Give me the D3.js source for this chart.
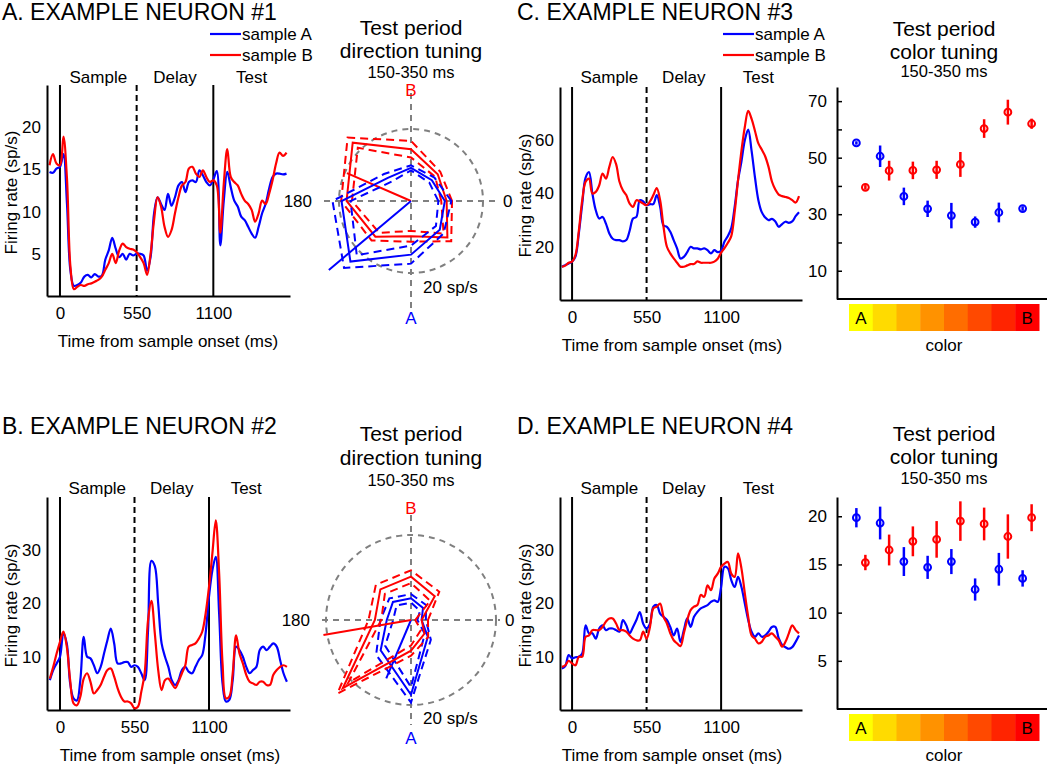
<!DOCTYPE html>
<html>
<head>
<meta charset="utf-8">
<script src="https://cdn.jsdelivr.net/npm/d3@7"></script>
<style>
  body { margin: 0; background: #fff; }
  svg { display: block; }
</style>
</head>
<body>
<svg id="fig" width="1050" height="764"></svg>
<script>
// Example neurons: PSTHs, direction tuning (polar) and colour tuning

// time bins, ms from sample onset
const timesA = [-75,-50,-25,0,25,50,75,100,125,150,175,200,225,250,275,300,325,350,375,400,425,450,475,500,525,550,575,600,625,650,675,700,725,750,775,800,825,850,875,900,925,950,975,1000,1025,1050,1075,1100,1125,1150,1175,1200,1225,1250,1275,1300,1325,1350,1375,1400,1425,1450,1475,1500,1525,1550,1575,1600,1625];
const timesBCD = [-75,-50,-25,0,25,50,75,100,125,150,175,200,225,250,275,300,325,350,375,400,425,450,475,500,525,550,575,600,625,650,675,700,725,750,775,800,825,850,875,900,925,950,975,1000,1025,1050,1075,1100,1125,1150,1175,1200,1225,1250,1275,1300,1325,1350,1375,1400,1425,1450,1475,1500,1525,1550,1575,1600,1625,1650,1675];

// firing rates (sp/s)
const n1SampleA = [14.7,14.6,15.1,15.3,16.8,11,3,1.2,1.3,1.6, 2.3,2.5,2.2,2.6,2.3,2.4,4.3,5.4,6.9,5.6, 4.6,5,4.3,5,4.8,5,5,4.8,3,4.6, 9.8,11.7,10.9,10.2,12.1,10.7,11.7,13.1,13.5,12.3, 13.5,13.7,13.5,14.9,14.3,13.5,13.1,13.8,14.8,6, 11.3,14.7,12.9,11.3,10.6,9.4,9,8.2,7.4,6.9, 8.2,9.8,10.9,12.7,14.1,14.5,14.5,14.4,14.5];
const n1SampleB = [15.5,16.8,15.7,15.5,18.9,14,3.5,0.8,1.1,1.3, 1.2,1.4,1.5,1.7,1.9,2.3,3.1,3.9,5,3.9, 5.4,6.2,5.8,5.6,5.5,5.2,4.6,3.9,2.5,5, 9,11.7,10.6,8.2,7,7.8,9.8,11.7,13.1,13.5, 15.1,15.3,14.5,14.1,14.9,14.1,13.5,13.7,13.1,7.5, 13.3,17.4,14.1,13.5,13.1,12.1,11.3,10.9,10.2,8.8, 9.8,11.3,10.9,12.1,13.7,15.7,17,16.6,17];
const n2SampleA = [5.6,7.5,8.75,10,14.4,12.5,5,2.2,1.8,5.6, 13.75,10,9.7,8.4,6.9,8.1,10.6,13.1,15.3,12.5, 8.75,8.75,9,9,8.1,8.4,8.1,6.9,5.6,15, 28,27,20,12.5,10,8.1,5.6,4.7,5.6,7.5, 8.1,7.2,6.9,8.1,9.4,10.3,14.4,21.25,26.25,28.75, 18,5,1.6,1.9,5.6,11.9,11.25,10,8.1,6.9, 7.5,8.1,11.25,11.9,11.25,11.9,12.5,11.9,9.4,6.9,5.3];
const n2SampleB = [5.9,8.1,10.6,12.8,14.7,11.9,5.6,1.25,0.9,2.5, 5.9,6.9,5.3,3.1,3.75,4.7,6.25,7.5,7.8,6.25, 4.1,2.5,1.6,1.6,1.25,0.3,0.6,3.4,6.9,16.9, 20.5,14.4,7.5,3.75,5.6,5.9,5,4.1,5.3,6.9, 8.4,11.9,12.2,12.5,13.4,14.7,18.1,23.1,29.4,35.6, 25.6,8.75,2.2,2.5,6.9,14,10.6,8.75,6.6,5.3, 5,4.7,5.3,5.3,4.7,4.7,6.6,7.5,8.1,8.4,8.1];
const n3SampleA = [12.5,13.1,13.7,14.4,16.3,25,36,46,48,40, 33.7,30.6,31.2,28.7,25,23,22.5,22.5,22,22.5, 26,30.6,31.2,37.5,37,35.6,36,36,39.4,35, 28,27.5,25.6,22.5,19.4,15.6,16.2,18,20,19.4, 19.4,19,19.4,18.7,17.5,18.7,18,18.5,22,24, 27,35,45,52,60,64,56,46,37.5,33, 31,30,30.5,29.5,27.5,28.5,29.4,29,29.5,31.5,33];
const n3SampleB = [12.5,12.9,14,14.4,16.9,26,37.5,44.4,45.6,40, 40.6,43,47.5,45.6,50,53.7,51,44.4,41.2,39.4, 36.2,35,37.5,37,36.2,35.6,37,39.4,42,37.5, 27.5,20,17.5,15.6,14,12.5,12.5,13,13.5,13.5, 14.5,14,14,14,14,14.4,15.5,17.8,19.5,21.5, 24,33,45,56,65,71,68,63.5,58.8,56.5, 54,50,44.5,41.5,39.6,39,38.7,38.3,37.5,36.6,39];
const n4SampleA = [7.8,8.25,10.3,9.7,9.9,10,10.6,15.9,14.4,14.4, 13.4,15.3,15.9,15,15.3,15.3,15,14.7,16.9,15.9, 14.4,15.6,16.9,18.4,16.2,15.3,16.2,19.4,19.7,18.1, 17.5,16.9,15.6,14,15.3,12.8,15,17.2,15.6,17.5, 18.4,19.1,19.4,19.7,20.3,20.6,20.3,23.1,26.9,26.6, 24.4,23.1,25,23.1,20,16.9,14.7,13.75,14.4,13.75, 14,14.7,15.6,15.6,13.5,12.2,11.8,11.5,11.8,12.8,14];
const n4SampleB = [8.1,8.4,9.25,8.75,8.4,10,10,13.75,14,15, 15,15,15.6,16.6,17.2,17.2,16.25,15,15,14.7, 14,13.4,13.1,13.1,14.7,13.4,15.6,19.1,19.4,20, 17.5,16.25,14.4,13.1,12.5,12,14.4,16.9,18.75,19.4, 19.7,21.6,21.25,23.4,22.5,24.7,25.6,26.9,27.5,27.8, 25.6,25,29.4,26.6,21.9,17.5,14,13.4,12.5,12.8, 13.75,14,14.4,13.75,13.1,11.9,12.8,14.4,15.9,15,14.4];

const eventTimes = [0, 550, 1100];
const periodNames = ['Sample', 'Delay', 'Test'];
const periodMid = [275, 825, 1375];

// direction tuning, test period 150-350 ms (sp/s)
const directions = [0, 45, 90, 135, 180, 225, 270, 315];
const dir1SampleA = [9.4, 8.2, 9.2, 9.1, 19.3, 23.8, 14.9, 11.3];
const dir1SampleAErr = [1.8, 1, 0.7, 1.5, 2.5, 2.5, 2.5, 1.5];
const dir1SampleB = [9.9, 10.5, 14.4, 22.9, 17.9, 14, 9.8, 14.3];
const dir1SampleBErr = [1.5, 1, 2.3, 2, 1.5, 1.5, 1.5, 1.5];
const dir1VectorA = [220, 29.8];   // [angle deg, length]
const dir1VectorB = [156.5, 19.4];
const dir2SampleA = [2.5, 4, 5.1, 6, 5.7, 10.1, 17.6, 5.6];
const dir2SampleAErr = [1, 1, 1, 1.2, 1.5, 1.5, 1.8, 1];
const dir2SampleB = [2.5, 7.9, 10.2, 10.2, 8.5, 22.7, 7.2, 4.5];
const dir2SampleBErr = [1.5, 1.5, 1.5, 1.5, 1.5, 1.8, 1.2, 1.2];
const dir2VectorA = [247, 14.9];
const dir2VectorB = [189.7, 20.9];

// colour tuning, test period 150-350 ms (sp/s)
const colorSteps = [1, 2, 3, 4, 5, 6, 7, 8];
const colorSwatches = ['#ffff00', '#ffdb00', '#ffb600', '#ff9200', '#ff6d00', '#ff4900', '#ff2400', '#ff0000'];
const colorEnds = ['A', '', '', '', '', '', '', 'B'];
const col3SampleA = [55.2, 50.5, 36.3, 31.9, 29.5, 27.2, 30.6, 32];
const col3SampleAErr = [0.6, 3.8, 3.1, 2.9, 4.5, 2, 3.5, 0.8];
const col3SampleB = [39.5, 45.4, 45.5, 45.7, 47.6, 60.3, 66.1, 62];
const col3SampleBErr = [0.8, 3.5, 3.1, 3.2, 4.4, 3.3, 4.4, 1.8];
const col4SampleA = [19.85, 19.3, 15.3, 14.7, 15.3, 12.4, 14.5, 13.55];
const col4SampleAErr = [1, 1.7, 1.5, 1.2, 1.3, 1.15, 1.7, 0.85];
const col4SampleB = [15.2, 16.5, 17.4, 17.6, 19.5, 19.2, 17.9, 19.85];
const col4SampleBErr = [0.8, 1.6, 1.55, 1.9, 2.05, 1.7, 2.3, 1.4];

const FONT = '"Liberation Sans", Arial, Helvetica, sans-serif';
const BLUE = '#0000ff';
const RED = '#ff0000';
const GREY = '#808080';

const svg = d3.select('#fig').style('font-family', FONT);
const defs = svg.append('defs');

function label(g, x, y, str, size, opts = {}) {
  return g.append('text')
    .attr('x', x)
    .attr('y', y)
    .attr('font-size', size)
    .attr('text-anchor', opts.anchor || 'middle')
    .attr('dominant-baseline', 'central')
    .attr('fill', opts.fill || '#000')
    .text(str);
}

function styleAxis(sel) {
  sel.attr('font-family', FONT).attr('font-size', 17);
  sel.select('.domain').attr('stroke', '#000').attr('stroke-width', 2);
  sel.selectAll('.tick line').attr('stroke', '#000').attr('stroke-width', 1.5);
  sel.selectAll('.tick text').attr('fill', '#000');
}

// ---- firing-rate panels ----
function drawPsth(p) {
  const g = svg.append('g');
  const x = d3.scaleLinear().domain(p.xDomain).range([p.left, p.right]);
  const y = d3.scaleLinear().domain(p.yDomain).range([p.bottom, p.top]);

  defs.append('clipPath').attr('id', 'clip-' + p.id)
    .append('rect')
    .attr('x', p.left).attr('y', p.top)
    .attr('width', p.right - p.left).attr('height', p.bottom - p.top);

  label(g, p.titleX, p.titleY, p.title, 23, { anchor: 'start' })
    .attr('dominant-baseline', 'auto');

  periodNames.forEach((name, i) => label(g, x(periodMid[i]), p.periodY, name, 17));

  g.selectAll('.event')
    .data(eventTimes)
    .join('line')
    .attr('x1', d => x(d)).attr('x2', d => x(d))
    .attr('y1', p.top).attr('y2', p.bottom)
    .attr('stroke', '#000')
    .attr('stroke-width', 2)
    .attr('stroke-dasharray', (d, i) => i === 1 ? '6,4' : null);

  const line = d3.line()
    .x((d, i) => x(p.times[i]))
    .y(d => y(d))
    .curve(d3.curveCatmullRom.alpha(0.5));

  const plot = g.append('g').attr('clip-path', `url(#clip-${p.id})`);
  [[p.sampleA, BLUE], [p.sampleB, RED]].forEach(([vals, c]) => {
    plot.append('path')
      .attr('d', line(vals))
      .attr('fill', 'none')
      .attr('stroke', c)
      .attr('stroke-width', 2.2)
      .attr('stroke-linejoin', 'round');
  });

  g.append('g')
    .attr('transform', `translate(${p.left},0)`)
    .call(d3.axisLeft(y).tickValues(p.yTicks).tickSize(0).tickSizeOuter(0).tickPadding(6))
    .call(styleAxis);

  g.append('g')
    .attr('transform', `translate(0,${p.bottom})`)
    .call(d3.axisBottom(x).tickValues(eventTimes).tickFormat(d3.format('d'))
      .tickSize(0).tickSizeOuter(0).tickPadding(11))
    .call(styleAxis);

  label(g, p.xLabelX, p.bottom + 45, 'Time from sample onset (ms)', 17);
  label(g, 0, 0, 'Firing rate (sp/s)', 17)
    .attr('transform', `translate(${p.yLabelX},${(p.top + p.bottom) / 2 + 2}) rotate(-90)`);

  if (p.legend) {
    [['sample A', BLUE], ['sample B', RED]].forEach(([name, c], i) => {
      const ly = p.legend.y + i * 21;
      g.append('line')
        .attr('x1', p.legend.x).attr('x2', p.legend.x + 31)
        .attr('y1', ly).attr('y2', ly)
        .attr('stroke', c).attr('stroke-width', 2.2);
      label(g, p.legend.x + 32, ly, name, 17, { anchor: 'start' });
    });
  }
}

// ---- polar direction tuning ----
function drawPolar(p) {
  const g = svg.append('g');
  [['Test period', 21, 0], ['direction tuning', 21, 1], ['150-350 ms', 16.5, 2]].forEach(([t, s, i]) =>
    label(g, p.cx, p.titleY[i], t, s));

  const pg = g.append('g').attr('transform', `translate(${p.cx},${p.cy})`);
  const r = d3.scaleLinear().domain([0, 20]).range([0, p.ringR]);

  pg.append('circle')
    .attr('r', r(20))
    .attr('fill', 'none').attr('stroke', GREY)
    .attr('stroke-width', 2).attr('stroke-dasharray', '6,5');
  pg.append('line')
    .attr('x1', -p.hLen).attr('x2', p.hLen)
    .attr('stroke', GREY).attr('stroke-width', 2).attr('stroke-dasharray', '6,5');
  pg.append('line')
    .attr('y1', -p.vLen).attr('y2', p.vLen)
    .attr('stroke', GREY).attr('stroke-width', 2).attr('stroke-dasharray', '6,5');

  const radial = d3.lineRadial()
    .angle((d, i) => (90 - directions[i]) * Math.PI / 180)
    .radius(d => r(Math.max(d, 0)))
    .curve(d3.curveLinearClosed);

  p.series.forEach(s => {
    [-1, 1].forEach(sign => {
      pg.append('path')
        .attr('d', radial(s.mean.map((m, i) => m + sign * s.err[i])))
        .attr('fill', 'none').attr('stroke', s.color)
        .attr('stroke-width', 2).attr('stroke-dasharray', '8,5');
    });
    pg.append('path')
      .attr('d', radial(s.mean))
      .attr('fill', 'none').attr('stroke', s.color).attr('stroke-width', 2);
    const [ang, len] = s.vector;
    const a = ang * Math.PI / 180;
    pg.append('line')
      .attr('x1', 0).attr('y1', 0)
      .attr('x2', r(len) * Math.cos(a)).attr('y2', -r(len) * Math.sin(a))
      .attr('stroke', s.color).attr('stroke-width', 2);
  });

  label(pg, 0, -p.bLabel, 'B', 17, { fill: RED });
  label(pg, 0, p.aLabel, 'A', 17, { fill: BLUE });
  label(pg, -p.hLen - 12, 0, '180', 17, { anchor: 'end' });
  label(pg, p.hLen + 5, 0, '0', 17, { anchor: 'start' });
  label(pg, 12, p.scaleLabel, '20 sp/s', 17, { anchor: 'start' });
}

// ---- colour tuning ----
function drawColorTuning(p) {
  const g = svg.append('g');
  [['Test period', 21, 0], ['color tuning', 21, 1], ['150-350 ms', 16.5, 2]].forEach(([t, s, i]) =>
    label(g, p.titleX, p.titleY[i], t, s));

  const x = d3.scaleBand().domain(colorSteps).range([849, 1039]);
  const y = d3.scaleLinear().domain(p.yDomain).range([p.bottom, p.top]);
  const offset = 4.5;

  g.append('g')
    .attr('transform', `translate(${p.left},0)`)
    .call(d3.axisLeft(y).tickValues(p.yTicks).tickSize(-5).tickSizeOuter(0).tickPadding(10)
      .tickFormat(d => p.yLabels.includes(d) ? d : ''))
    .call(styleAxis);
  g.append('line')
    .attr('x1', p.left).attr('x2', p.right)
    .attr('y1', p.bottom).attr('y2', p.bottom)
    .attr('stroke', '#000').attr('stroke-width', 2);

  p.series.forEach(s => {
    const cx = d => x(d) + x.bandwidth() / 2 + s.shift * offset;
    g.selectAll(null)
      .data(colorSteps)
      .join('line')
      .attr('x1', cx).attr('x2', cx)
      .attr('y1', (d, i) => y(s.mean[i] - s.err[i]))
      .attr('y2', (d, i) => y(s.mean[i] + s.err[i]))
      .attr('stroke', s.color).attr('stroke-width', 2.5);
    g.selectAll(null)
      .data(colorSteps)
      .join('circle')
      .attr('cx', cx)
      .attr('cy', (d, i) => y(s.mean[i]))
      .attr('r', 3.4)
      .attr('fill', 'none').attr('stroke', s.color).attr('stroke-width', 2);
  });

  const barTop = p.bottom + 5;
  g.selectAll(null)
    .data(colorSteps)
    .join('rect')
    .attr('x', d => x(d)).attr('y', barTop)
    .attr('width', x.bandwidth() + 0.5).attr('height', 27)
    .attr('fill', (d, i) => colorSwatches[i]);
  colorSteps.forEach((d, i) => {
    if (colorEnds[i]) label(g, x(d) + x.bandwidth() / 2, barTop + 14, colorEnds[i], 17);
  });
  label(g, p.titleX, p.bottom + 46, 'color', 17);
}

// panel A
drawPsth({
  id: 'a', title: 'A. EXAMPLE NEURON #1', titleX: 2, titleY: 20,
  left: 47, right: 290, top: 85, bottom: 296,
  xDomain: [-93, 1650], yDomain: [0, 25], yTicks: [5, 10, 15, 20],
  times: timesA, sampleA: n1SampleA, sampleB: n1SampleB,
  periodY: 77, xLabelX: 168, yLabelX: 11, legend: { x: 210, y: 34 }
});
// panel B
drawPsth({
  id: 'b', title: 'B. EXAMPLE NEURON #2', titleX: 2, titleY: 434,
  left: 47, right: 290, top: 497, bottom: 710,
  xDomain: [-96, 1698], yDomain: [0, 40], yTicks: [10, 20, 30],
  times: timesBCD, sampleA: n2SampleA, sampleB: n2SampleB,
  periodY: 488, xLabelX: 170, yLabelX: 11
});
// panel C
drawPsth({
  id: 'c', title: 'C. EXAMPLE NEURON #3', titleX: 517, titleY: 20,
  left: 560, right: 802, top: 87, bottom: 300,
  xDomain: [-89, 1697], yDomain: [0, 80], yTicks: [20, 40, 60],
  times: timesBCD, sampleA: n3SampleA, sampleB: n3SampleB,
  periodY: 77, xLabelX: 672, yLabelX: 525, legend: { x: 723, y: 34 }
});
// panel D
drawPsth({
  id: 'd', title: 'D. EXAMPLE NEURON #4', titleX: 517, titleY: 434,
  left: 560, right: 802, top: 497, bottom: 710,
  xDomain: [-89, 1697], yDomain: [0, 40], yTicks: [10, 20, 30],
  times: timesBCD, sampleA: n4SampleA, sampleB: n4SampleB,
  periodY: 488, xLabelX: 672, yLabelX: 525
});

drawPolar({
  cx: 411, cy: 201, ringR: 72, hLen: 87, vLen: 108,
  titleY: [27, 50, 72], bLabel: 111, aLabel: 117, scaleLabel: 86,
  series: [
    { mean: dir1SampleB, err: dir1SampleBErr, vector: dir1VectorB, color: RED },
    { mean: dir1SampleA, err: dir1SampleAErr, vector: dir1VectorA, color: BLUE }
  ]
});
drawPolar({
  cx: 411, cy: 620, ringR: 85, hLen: 89, vLen: 105,
  titleY: [433, 457, 480], bLabel: 112, aLabel: 118, scaleLabel: 98,
  series: [
    { mean: dir2SampleA, err: dir2SampleAErr, vector: dir2VectorA, color: BLUE },
    { mean: dir2SampleB, err: dir2SampleBErr, vector: dir2VectorB, color: RED }
  ]
});

drawColorTuning({
  left: 837, right: 1047, top: 87, bottom: 299, titleX: 944, titleY: [28, 51, 71],
  yDomain: [0, 75], yTicks: [10, 20, 30, 40, 50, 60, 70], yLabels: [10, 30, 50, 70],
  series: [
    { mean: col3SampleA, err: col3SampleAErr, color: BLUE, shift: -1 },
    { mean: col3SampleB, err: col3SampleBErr, color: RED, shift: 1 }
  ]
});
drawColorTuning({
  left: 837, right: 1047, top: 497, bottom: 709, titleX: 944, titleY: [433, 456, 478],
  yDomain: [0, 22], yTicks: [5, 10, 15, 20], yLabels: [5, 10, 15, 20],
  series: [
    { mean: col4SampleA, err: col4SampleAErr, color: BLUE, shift: -1 },
    { mean: col4SampleB, err: col4SampleBErr, color: RED, shift: 1 }
  ]
});
</script>
</body>
</html>
